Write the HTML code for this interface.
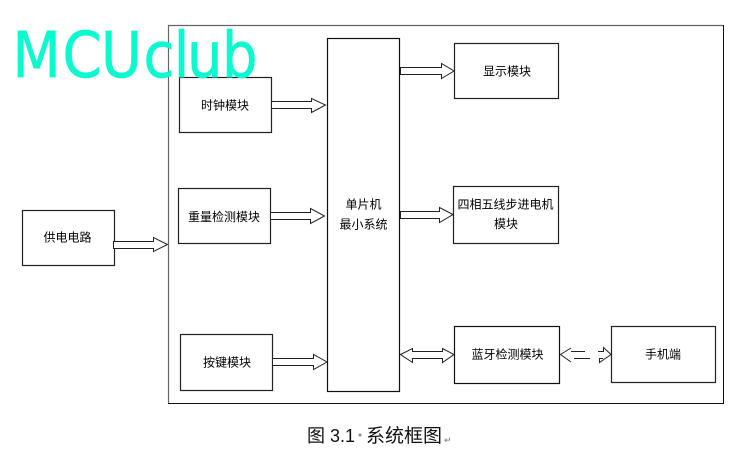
<!DOCTYPE html>
<html><head><meta charset="utf-8">
<style>
html,body{margin:0;padding:0;background:#fff}
svg{display:block}
.t{font-family:"WenQuanYi Zen Hei","Noto Sans CJK SC",sans-serif;font-size:12px;fill:#000;text-anchor:middle;dominant-baseline:central}
.b{fill:#fff;stroke:#222;stroke-width:1.2}
.a{fill:#fff;stroke:#222;stroke-width:1}
</style></head>
<body>
<svg width="733" height="463" viewBox="0 0 733 463" xmlns="http://www.w3.org/2000/svg">
<rect x="0" y="0" width="733" height="463" fill="#fff"/>
<rect x="168.500" y="25.500" width="555" height="378" fill="#fff" stroke="#111"/>
<path d="M168.500,403 V25.500 H723" fill="none" stroke="#666" stroke-width="1.200"/>
<rect class="b" x="179.500" y="77.500" width="92" height="55"/>
<rect class="b" x="178.500" y="188.500" width="92" height="55"/>
<rect class="b" x="22.500" y="210.500" width="92" height="55"/>
<rect class="b" x="180.500" y="334.500" width="92" height="56"/>
<rect class="b" x="327.500" y="38.500" width="72" height="353" style="stroke:#111"/>
<rect class="b" x="454.500" y="43.500" width="104" height="55"/>
<rect class="b" x="453.500" y="186.500" width="105" height="57"/>
<rect class="b" x="454.500" y="326.500" width="105" height="57" style="stroke:#111"/>
<rect class="b" x="611.500" y="326.500" width="104" height="56"/>

<polygon class="a" points="271.500,101.500 311.500,101.500 311.500,98.500 325.500,105 311.500,112.500 311.500,108.500 271.500,108.500"/>
<polygon class="a" points="270.500,212.500 310.500,212.500 310.500,208.500 324.500,216 310.500,223.500 310.500,219.500 270.500,219.500"/>
<polygon class="a" points="113.500,241.500 153.500,241.500 153.500,237.500 167.500,244.500 153.500,251.500 153.500,248.500 113.500,248.500"/>
<polygon class="a" points="272.500,358.500 313.500,358.500 313.500,354.500 327,362 313.500,369.500 313.500,365.500 272.500,365.500"/>
<polygon class="a" points="400.500,67.500 441.500,67.500 441.500,63.500 454,71 441.500,78.500 441.500,74.500 400.500,74.500"/>
<polygon class="a" points="400.500,211.500 439.500,211.500 439.500,207.500 453,214.500 439.500,222.500 439.500,218.500 400.500,218.500"/>
<polygon class="a" points="400.500,354.500 412.500,348.500 412.500,351.500 442.500,351.500 442.500,348.500 454,354.500 442.500,362.500 442.500,358.500 412.500,358.500 412.500,362.500"/>

<g fill="none" stroke="#222" stroke-width="1">
<path d="M571,348 L560.500,354.500 L571,362"/>
<path d="M571,351.500 H585"/>
<path d="M574,358.500 H590"/>
<path d="M598,351.500 H603.500 V347.500 L611,354.500 L599.500,362.500 V358.500 H603"/>
</g>

<text class="t" x="225" y="105">时钟模块</text>
<text class="t" x="224" y="216.500">重量检测模块</text>
<text class="t" x="67.500" y="237">供电电路</text>
<text class="t" x="227" y="362">按键模块</text>
<text class="t" x="363.500" y="204">单片机</text>
<text class="t" x="363.500" y="224">最小系统</text>
<text class="t" x="507" y="71">显示模块</text>
<text class="t" x="505.500" y="204">四相五线步进电机</text>
<text class="t" x="506" y="223.500">模块</text>
<text class="t" x="507.500" y="354">蓝牙检测模块</text>
<text class="t" x="663" y="354">手机端</text>

<text x="307" y="442" font-family="'Noto Sans CJK SC','WenQuanYi Zen Hei',sans-serif" font-size="18" fill="#111">图</text>
<text x="330" y="442" font-family="'Liberation Sans',sans-serif" font-size="18" fill="#111">3.1</text>
<circle cx="360" cy="435" r="1.500" fill="#888"/>
<text x="366" y="442" font-family="'Noto Sans CJK SC','WenQuanYi Zen Hei',sans-serif" font-size="19" fill="#111">系统框图</text>
<text x="444" y="443" font-family="'DejaVu Sans',sans-serif" font-size="9" fill="#777">↵</text>

<text transform="translate(0,77) scale(1,1.13)" y="0" x="12.500 62.500 101 143.500 173.700 187 222" font-family="'DejaVu Sans',sans-serif" font-size="56" fill="#0bf9cf" stroke="#0bf9cf" stroke-width="0.600" stroke-linejoin="round">MCUclub</text>
</svg>
</body></html>
